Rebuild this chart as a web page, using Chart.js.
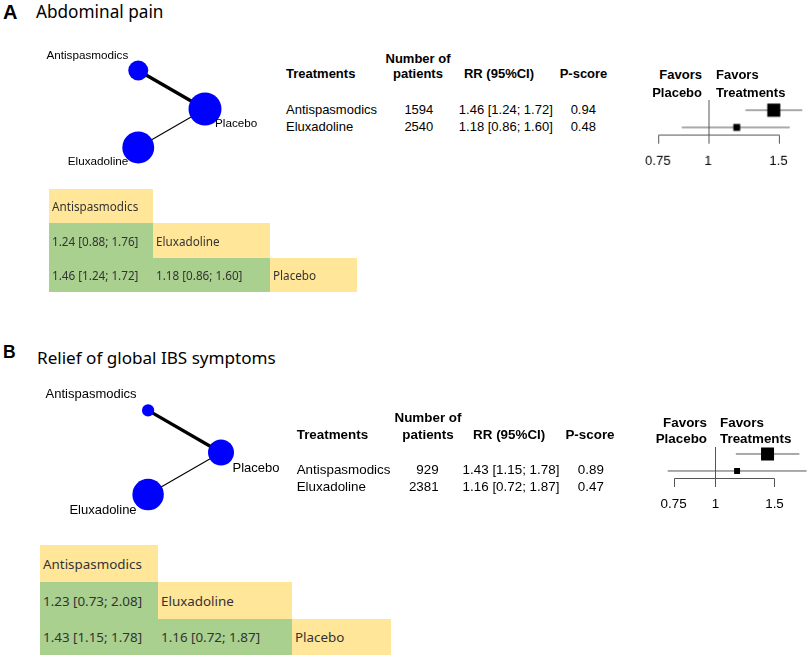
<!DOCTYPE html>
<html>
<head>
<meta charset="utf-8">
<title>Network meta-analysis</title>
<script src="https://cdn.jsdelivr.net/npm/chart.js@4.4.1/dist/chart.umd.min.js"></script>
<style>
  body { margin: 0; background: #fff; }
  #page { position: relative; width: 809px; height: 659px; overflow: hidden; background: #fff;
          font-family: "Liberation Sans", Arial, sans-serif; color: #000; }
  .t { position: absolute; white-space: nowrap; }
  .box { position: absolute; }
  table.league { position: absolute; border-collapse: collapse; font-family: "Noto Sans", sans-serif; color: #333; table-layout: fixed; }
  table.league td { padding: 0 0 0 3px; white-space: nowrap; vertical-align: middle; }
  td.name { background: #FFE699; }
  td.cmp { background: #A9D08E; }
</style>
</head>
<body>
<div id="page"></div>
<script>
// network nodes (netgraph layout on the unit circle) and edges
const nodeNames = ['Antispasmodics', 'Eluxadoline', 'Placebo'];
const nodeX = [-0.5, -0.5, 1];
const nodeY = [0.866, -0.866, 0];
const edgeFrom = [0, 1];
const edgeTo = [2, 2];

const treatments = ['Antispasmodics', 'Eluxadoline'];
const forestTicks = [0.75, 1, 1.5];

// A - abdominal pain
const painPatients = [1594, 2540];
const painNodeSize = [1594, 2540, 2630];
const painEdgeWeight = [6, 2];
const painRR = [1.46, 1.18];
const painLow = [1.24, 0.86];
const painHigh = [1.72, 1.60];
const painPScore = [0.94, 0.48];
// league pairs: Antis-Elux, Antis-Placebo, Elux-Placebo
const painLeagueRR = [1.24, 1.46, 1.18];
const painLeagueLow = [0.88, 1.24, 0.86];
const painLeagueHigh = [1.76, 1.72, 1.60];

// B - relief of global IBS symptoms
const ibsPatients = [929, 2381];
const ibsNodeSize = [929, 2381, 1970];
const ibsEdgeWeight = [6, 2];
const ibsRR = [1.43, 1.16];
const ibsLow = [1.15, 0.72];
const ibsHigh = [1.78, 1.87];
const ibsPScore = [0.89, 0.47];
const ibsLeagueRR = [1.23, 1.43, 1.16];
const ibsLeagueLow = [0.73, 1.15, 0.72];
const ibsLeagueHigh = [2.08, 1.78, 1.87];

Chart.defaults.font.family = "'Liberation Sans', Arial, sans-serif";
Chart.defaults.animation = false;

const page = document.getElementById('page');
const NOTO = '"Noto Sans", sans-serif';

function addText(x, y, str, size, align, bold, family) {
    const el = document.createElement('div');
    el.className = 't';
    el.textContent = str;
    el.style.fontSize = size + 'px';
    el.style.lineHeight = (size * 1.2) + 'px';
    el.style.top = (y - size * (family ? 0.63 : 0.59)) + 'px';
    el.style.left = x + 'px';
    if (align === 'right') el.style.transform = 'translateX(-100%)';
    if (align === 'center') el.style.transform = 'translateX(-50%)';
    if (bold) el.style.fontWeight = 'bold';
    if (family) el.style.fontFamily = family;
    page.appendChild(el);
}

function addCanvas(left, top, width, height) {
    const div = document.createElement('div');
    div.className = 'box';
    div.style.left = left + 'px';
    div.style.top = top + 'px';
    div.style.width = width + 'px';
    div.style.height = height + 'px';
    const canvas = document.createElement('canvas');
    div.appendChild(canvas);
    page.appendChild(div);
    return canvas;
}

function fmtCI(rr, lo, hi) {
    return rr.toFixed(2) + ' [' + lo.toFixed(2) + '; ' + hi.toFixed(2) + ']';
}

function drawNetwork(L, nodeSize, edgeWeight) {
    const n = L.net;
    const canvas = addCanvas(n.left, n.top, n.width, n.height);
    const datasets = [{
        type: 'bubble',
        data: nodeNames.map((name, i) => ({ x: nodeX[i], y: nodeY[i], r: nodeSize[i] * n.nodeScale })),
        backgroundColor: '#0000FF',
        borderWidth: 0
    }];
    edgeFrom.forEach(function (a, i) {
        const b = edgeTo[i];
        datasets.push({
            type: 'line',
            data: [{ x: nodeX[a], y: nodeY[a] }, { x: nodeX[b], y: nodeY[b] }],
            borderColor: '#000',
            borderWidth: edgeWeight[i] * n.edgeScale,
            pointRadius: 0,
            fill: false
        });
    });
    const labels = {
        id: 'nodeLabels',
        afterDatasetsDraw(chart) {
            const ctx = chart.ctx;
            const xs = chart.scales.x, ys = chart.scales.y;
            ctx.save();
            ctx.fillStyle = '#000';
            ctx.font = n.font + 'px "Liberation Sans", Arial, sans-serif';
            ctx.textBaseline = 'middle';
            nodeNames.forEach(function (name, i) {
                const px = xs.getPixelForValue(nodeX[i]);
                const py = ys.getPixelForValue(nodeY[i]);
                ctx.textAlign = nodeX[i] < 0 ? 'right' : 'left';
                const tx = nodeX[i] < 0 ? px - n.labelDx : px + n.labelDx;
                const ty = nodeY[i] > 0 ? py - n.labelDy : py + n.labelDy;
                ctx.fillText(name, tx, ty);
            });
            ctx.restore();
        }
    };
    new Chart(canvas, {
        type: 'bubble',
        data: { datasets: datasets },
        options: {
            responsive: true,
            maintainAspectRatio: false,
            layout: { padding: 0, autoPadding: false },
            plugins: { legend: { display: false }, tooltip: { enabled: false } },
            scales: {
                x: { type: 'linear', display: false,
                     min: (n.left - n.cx) / n.R, max: (n.left + n.width - n.cx) / n.R },
                y: { type: 'linear', display: false,
                     min: (n.cy - n.top - n.height) / n.R, max: (n.cy - n.top) / n.R }
            }
        },
        plugins: [labels]
    });
}

function drawForest(L, rr, low, high) {
    const f = L.forest;
    const nRows = rr.length;
    const left = f.one + f.unit * Math.log(f.min);
    const width = f.unit * (Math.log(f.max) - Math.log(f.min));
    const lineH = f.font * 1.2;
    const areaBottom = f.labelY - lineH / 2;
    const height = (areaBottom - f.top) + lineH;
    const canvas = addCanvas(left, f.top, width, height);
    const step = f.rowY[1] - f.rowY[0];
    const toValue = py => 1 - (py - f.rowY[1]) / step;
    const axisValue = toValue(f.axis);

    // square side proportional to precision (1 / se of log RR)
    const se = rr.map((v, i) => (Math.log(high[i]) - Math.log(low[i])) / 3.92);
    const minSe = Math.min.apply(null, se);
    const radii = se.map(s => f.maxSide * minSe / s / (2 * Math.SQRT1_2));

    const datasets = [{
        type: 'scatter',
        data: rr.map((v, i) => ({ x: v, y: nRows - i })),
        pointStyle: 'rect',
        pointRadius: radii,
        backgroundColor: '#000',
        borderWidth: 0
    }];
    rr.forEach(function (v, i) {
        datasets.push({
            type: 'line',
            data: [{ x: low[i], y: nRows - i }, { x: high[i], y: nRows - i }],
            borderColor: '#555',
            borderWidth: 1,
            pointRadius: 0,
            fill: false
        });
    });

    const axisLines = {
        id: 'forestAxis',
        beforeDatasetsDraw(chart) {
            const ctx = chart.ctx;
            const xs = chart.scales.x, ys = chart.scales.y;
            const yAxis = Math.round(ys.getPixelForValue(axisValue)) - 0.5;
            const yTop = ys.getPixelForValue(toValue(f.top));
            ctx.save();
            ctx.strokeStyle = '#555';
            ctx.lineWidth = 1;
            ctx.beginPath();
            const x1 = Math.round(xs.getPixelForValue(1)) + 0.5;
            ctx.moveTo(x1, yTop);
            ctx.lineTo(x1, yAxis + f.tick);
            const xa = Math.round(xs.getPixelForValue(forestTicks[0])) + 0.5;
            const xb = Math.round(xs.getPixelForValue(forestTicks[forestTicks.length - 1])) + 0.5;
            ctx.moveTo(xa, yAxis);
            ctx.lineTo(xb, yAxis);
            forestTicks.forEach(function (t) {
                const xt = Math.round(xs.getPixelForValue(t)) + 0.5;
                ctx.moveTo(xt, yAxis);
                ctx.lineTo(xt, yAxis + f.tick);
            });
            ctx.stroke();
            ctx.restore();
        }
    };

    new Chart(canvas, {
        type: 'scatter',
        data: { datasets: datasets },
        options: {
            responsive: true,
            maintainAspectRatio: false,
            layout: { padding: 0, autoPadding: false },
            plugins: { legend: { display: false }, tooltip: { enabled: false } },
            scales: {
                x: {
                    type: 'logarithmic',
                    min: f.min,
                    max: f.max,
                    bounds: 'data',
                    afterBuildTicks: function (axis) {
                        axis.ticks = forestTicks.map(v => ({ value: v }));
                    },
                    grid: { display: false, drawTicks: false },
                    border: { display: false },
                    ticks: {
                        autoSkip: false,
                        maxRotation: 0,
                        padding: 0,
                        color: '#000',
                        font: { size: f.font },
                        callback: function (value) { return String(value); }
                    }
                },
                y: {
                    type: 'linear', display: false,
                    min: toValue(areaBottom),
                    max: toValue(f.top)
                }
            }
        },
        plugins: [axisLines]
    });

    addText(f.favLeft, f.favY[0], 'Favors', f.font, 'right', true);
    addText(f.favLeft, f.favY[1], 'Placebo', f.font, 'right', true);
    addText(f.favRight, f.favY[0], 'Favors', f.font, 'left', true);
    addText(f.favRight, f.favY[1], 'Treatments', f.font, 'left', true);
}

function drawTable(L, patients, rr, low, high, pscore) {
    const t = L.table;
    addText(t.treatX, t.headY, 'Treatments', t.font, 'left', true);
    addText(t.numX, t.head1Y, 'Number of', t.font, 'center', true);
    addText(t.numX, t.headY, 'patients', t.font, 'center', true);
    addText(t.rrX, t.headY, 'RR (95%CI)', t.font, 'center', true);
    addText(t.psX, t.headY, 'P-score', t.font, 'center', true);
    treatments.forEach(function (name, i) {
        addText(t.treatX, t.rowY[i], name, t.font, 'left');
        addText(t.numRight, t.rowY[i], String(patients[i]), t.font, 'right');
        addText(t.rrValX, t.rowY[i], fmtCI(rr[i], low[i], high[i]), t.font, 'center');
        addText(t.psValX, t.rowY[i], pscore[i].toFixed(2), t.font, 'center');
    });
}

function drawLeague(L, lrr, llo, lhi) {
    const g = L.league;
    const table = document.createElement('table');
    table.className = 'league';
    table.style.left = g.left + 'px';
    table.style.top = g.top + 'px';
    table.style.fontSize = g.font + 'px';
    const colgroup = document.createElement('colgroup');
    g.cols.forEach(function (w) {
        const col = document.createElement('col');
        col.style.width = w + 'px';
        colgroup.appendChild(col);
    });
    table.appendChild(colgroup);
    const pairIndex = (a, b) => (a === 0 ? b - 1 : 2);
    nodeNames.forEach(function (rowName, r) {
        const tr = document.createElement('tr');
        tr.style.height = g.rows[r] + 'px';
        nodeNames.forEach(function (colName, c) {
            const td = document.createElement('td');
            if (c === r) {
                td.className = 'name';
                td.textContent = rowName;
            } else if (c < r) {
                const k = pairIndex(c, r);
                td.className = 'cmp';
                td.textContent = fmtCI(lrr[k], llo[k], lhi[k]);
            }
            tr.appendChild(td);
        });
        table.appendChild(tr);
    });
    page.appendChild(table);
}

function drawPanel(L, d) {
    addText(L.title.letterX, L.title.letterY, L.title.letter, L.title.letterSize, 'left', true);
    addText(L.title.textX, L.title.textY, L.title.text, L.title.textSize, 'left', false, NOTO);
    drawNetwork(L, d.nodeSize, d.edgeWeight);
    drawTable(L, d.patients, d.rr, d.low, d.high, d.pscore);
    drawForest(L, d.rr, d.low, d.high);
    drawLeague(L, d.lrr, d.llo, d.lhi);
}

const layoutA = {
    title: { letter: 'A', letterX: 3, letterY: 11.7, letterSize: 20,
             text: 'Abdominal pain', textX: 36, textY: 12.9, textSize: 17.2 },
    net: { left: 20, top: 30, width: 260, height: 160, cx: 160.5, cy: 109, R: 44.5,
           nodeScale: 0.00627, edgeScale: 0.55, font: 11.7, labelDx: 10, labelDy: 14.5 },
    table: { font: 13, treatX: 286, headY: 74, head1Y: 59, numX: 418, numRight: 433.3,
             rrX: 499, rrValX: 505.8, psX: 583.5, psValX: 583.3, rowY: [109.5, 127] },
    forest: { one: 708, unit: 173, min: 0.65, max: 1.75, rowY: [110, 127], top: 100, axis: 135,
              tick: 8.5, labelY: 160.8, font: 13, maxSide: 13, favLeft: 702, favRight: 716, favY: [75, 93] },
    league: { left: 49, top: 189, cols: [104, 117, 87], rows: [34, 35, 34], font: 11.7 }
};

const layoutB = {
    title: { letter: 'B', letterX: 3, letterY: 352.5, letterSize: 17.5,
             text: 'Relief of global IBS symptoms', textX: 37, textY: 358.3, textSize: 17.1 },
    net: { left: 20, top: 375, width: 280, height: 160, cx: 172.4, cy: 452.5, R: 48.6,
           nodeScale: 0.0066, edgeScale: 0.55, font: 13, labelDx: 11.5, labelDy: 16 },
    table: { font: 13.4, treatX: 296.7, headY: 434.7, head1Y: 417.5, numX: 428, numRight: 438.7,
             rrX: 509.2, rrValX: 511, psX: 590, psValX: 590.8, rowY: [469.5, 486.5] },
    forest: { one: 715, unit: 145.6, min: 0.66, max: 1.9, rowY: [454, 471], top: 447, axis: 479,
              tick: 8.5, labelY: 504.3, font: 13.4, maxSide: 13, favLeft: 707, favRight: 720, favY: [423, 439] },
    league: { left: 40, top: 545, cols: [118, 134, 99], rows: [37, 37, 36], font: 13.4 }
};

drawPanel(layoutA, {
    nodeSize: painNodeSize, edgeWeight: painEdgeWeight, patients: painPatients,
    rr: painRR, low: painLow, high: painHigh, pscore: painPScore,
    lrr: painLeagueRR, llo: painLeagueLow, lhi: painLeagueHigh
});
drawPanel(layoutB, {
    nodeSize: ibsNodeSize, edgeWeight: ibsEdgeWeight, patients: ibsPatients,
    rr: ibsRR, low: ibsLow, high: ibsHigh, pscore: ibsPScore,
    lrr: ibsLeagueRR, llo: ibsLeagueLow, lhi: ibsLeagueHigh
});
</script>
</body>
</html>
